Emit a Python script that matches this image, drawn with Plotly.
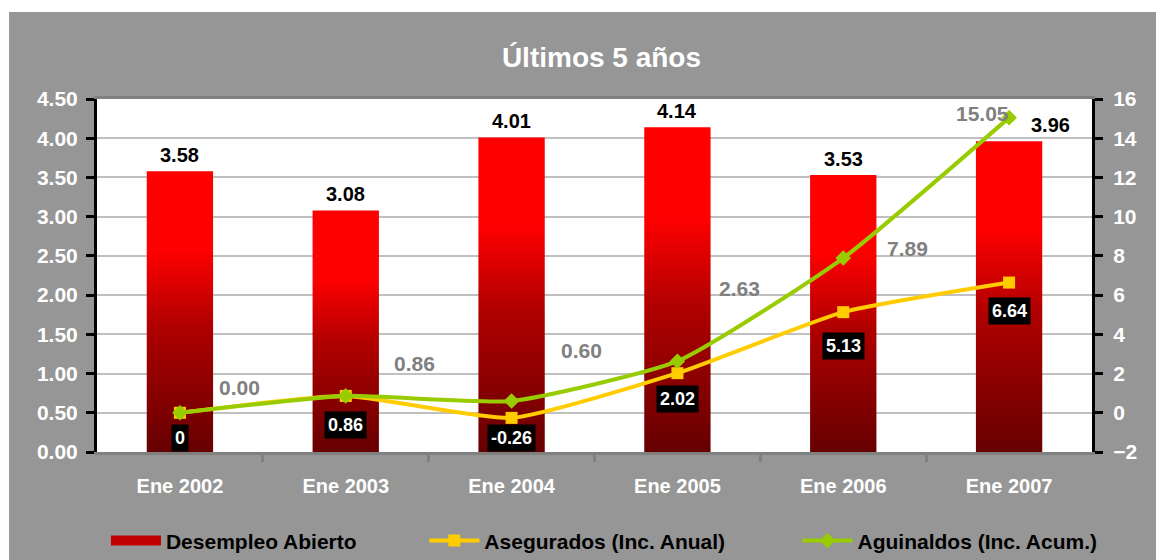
import plotly.graph_objects as go

categorias = ["Ene 2002", "Ene 2003", "Ene 2004", "Ene 2005", "Ene 2006", "Ene 2007"]
desempleo = [3.58, 3.08, 4.01, 4.14, 3.53, 3.96]
asegurados = [0, 0.86, -0.26, 2.02, 5.13, 6.64]
asegurados_txt = ["0", "0.86", "-0.26", "2.02", "5.13", "6.64"]
aguinaldos = [0.00, 0.86, 0.60, 2.63, 7.89, 15.05]

# label offsets (px) taken from the original chart
ag_dx = [60, 69, 70, 62, 64, -27]
ag_dy = [25, 32, 51, 73, 10, 4]
as_dy = [11, 15, 6, 12, 20, 14]
des_dx = [0, 0, 0, 0, 0, 41]

GRIS = "#969696"
FONT = "Liberation Sans, Arial, sans-serif"
ancho = 0.40
x_idx = list(range(len(categorias)))

fig = go.Figure()

# bars drawn as filled polygons so they can carry a vertical gradient
for i, v in enumerate(desempleo):
    fig.add_trace(go.Scatter(
        x=[i - ancho / 2, i + ancho / 2, i + ancho / 2, i - ancho / 2, i - ancho / 2],
        y=[0, 0, v, v, 0],
        mode="lines", fill="toself", line=dict(width=0),
        fillgradient=dict(type="vertical",
                          colorscale=[[0, "#660000"], [0.45, "#B00000"], [0.72, "#FF0000"], [1, "#FF0000"]]),
        fillcolor="#E00000", showlegend=False, hoverinfo="skip",
    ))

# legend entry for the bars (thick red stroke)
fig.add_trace(go.Scatter(
    x=[None], y=[None], mode="lines", line=dict(color="#C00000", width=16),
    name="Desempleo Abierto", legend="legend",
))

fig.add_trace(go.Scatter(
    x=x_idx, y=asegurados, yaxis="y2", mode="lines+markers",
    line=dict(color="#FFCC00", width=4, shape="spline", smoothing=0.5),
    marker=dict(symbol="square", size=12, color="#FFCC00"),
    name="Asegurados (Inc. Anual)", legend="legend2",
))
fig.add_trace(go.Scatter(
    x=x_idx, y=aguinaldos, yaxis="y2", mode="lines+markers",
    line=dict(color="#99CC00", width=4, shape="spline", smoothing=0.5),
    marker=dict(symbol="diamond", size=12, color="#99CC00"),
    name="Aguinaldos (Inc. Acum.)", legend="legend3",
))

for i, v in enumerate(desempleo):
    fig.add_annotation(x=i, y=v, text=f"{v:.2f}", showarrow=False, yanchor="bottom", yshift=3,
                       xshift=des_dx[i],
                       font=dict(family=FONT, size=20, color="black", weight="bold"))

for i, (v, t) in enumerate(zip(asegurados, asegurados_txt)):
    fig.add_annotation(x=i, y=v, yref="y2", text=t, showarrow=False, yanchor="top", yshift=-as_dy[i],
                       bgcolor="black", borderpad=3,
                       font=dict(family=FONT, size=18, color="white", weight="bold"))

for i, v in enumerate(aguinaldos):
    fig.add_annotation(x=i, y=v, yref="y2", text=f"{v:.2f}", showarrow=False,
                       xshift=ag_dx[i], yshift=ag_dy[i],
                       font=dict(family=FONT, size=21, color="#808080", weight="bold"))

# white margin strips around the grey panel
fig.add_shape(type="rect", xref="paper", yref="paper", x0=-0.2, x1=-0.0884, y0=-0.4, y1=1.4,
              fillcolor="white", line_width=0, layer="below")
fig.add_shape(type="rect", xref="paper", yref="paper", x0=-0.2, x1=1.2, y0=1.2465, y1=1.4,
              fillcolor="white", line_width=0, layer="below")

leg_style = dict(orientation="h", yanchor="middle", xanchor="left", bgcolor="rgba(0,0,0,0)",
                 itemwidth=50,
                 font=dict(family=FONT, size=21, color="black", weight="bold"))

tick_font = dict(family=FONT, size=21, color="white", weight="bold")

fig.update_layout(
    width=1156, height=552,
    margin=dict(l=89, r=72, t=91, b=108, autoexpand=False),
    paper_bgcolor=GRIS, plot_bgcolor="white",
    title=dict(text="Últimos 5 años", x=0.507, xref="paper", y=0.911, yref="container",
               xanchor="center", yanchor="middle",
               font=dict(family=FONT, size=28, color="white", weight="bold")),
    xaxis=dict(range=[-0.5, 5.5], tickvals=x_idx, ticktext=categorias, ticks="", ticklabelstandoff=14,
               showgrid=False, zeroline=False, showline=True, linecolor="#808080", linewidth=3, mirror=True,
               tickfont=dict(family=FONT, size=20, color="white", weight="bold"),
               minor=dict(tickmode="array", tickvals=[0.5, 1.5, 2.5, 3.5, 4.5], ticks="outside",
                          ticklen=7, tickwidth=3, tickcolor="#808080")),
    yaxis=dict(range=[0, 4.5], dtick=0.5, tickformat=".2f", showgrid=True, gridcolor="#C0C0C0", gridwidth=2,
               zeroline=False, showline=True, linecolor="black", linewidth=3, ticklabelstandoff=4,
               ticks="outside", ticklen=8, tickwidth=3, tickcolor="black", tickfont=tick_font),
    yaxis2=dict(range=[-2, 16], dtick=2, overlaying="y", side="right", showgrid=False, zeroline=False,
                showline=True, linecolor="black", linewidth=3, ticklabelstandoff=6,
                ticks="outside", ticklen=8, tickwidth=3, tickcolor="black", tickfont=tick_font),
    legend=dict(x=0.009, y=-0.252, **leg_style),
    legend2=dict(x=0.329, y=-0.252, **leg_style),
    legend3=dict(x=0.704, y=-0.252, **leg_style),
    showlegend=True,
)

fig.write_html("out.html")
